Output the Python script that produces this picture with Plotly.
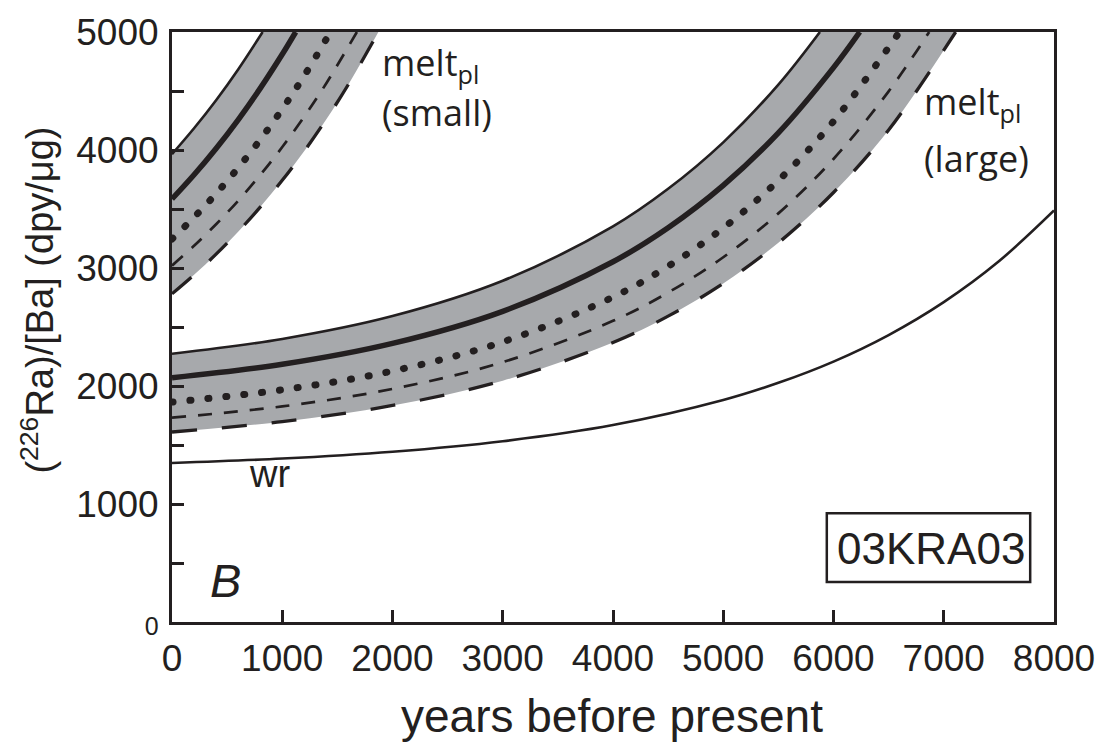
import plotly.graph_objects as go

# ---------------- data ----------------
# whole rock
wr_t = [0, 1000, 2000, 3000, 4000, 5000, 5500, 6000, 6500, 7000, 7500, 8000]
wr_v = [1348, 1385, 1443, 1532, 1669, 1881, 2027, 2207, 2432, 2711, 3057, 3487]

# melt_pl (large plagioclase)
large_upper_t = [0, 1000, 2000, 3000, 4000, 4500, 5000, 5500, 5877]
large_upper_v = [2273, 2399, 2593, 2892, 3353, 3671, 4065, 4554, 5000]
large_solid_t = [0, 1000, 2000, 3000, 4000, 4500, 5000, 5500, 6000, 6238]
large_solid_v = [2070, 2184, 2361, 2633, 3053, 3341, 3700, 4145, 4698, 5000]
large_dot_t = [0, 1000, 2000, 3000, 4000, 4500, 5000, 5500, 6000, 6598]
large_dot_v = [1864, 1968, 2127, 2374, 2753, 3015, 3339, 3742, 4243, 5000]
large_sdash_t = [0, 1000, 2000, 3000, 4000, 4500, 5000, 5500, 6000, 6500, 6868]
large_sdash_v = [1732, 1827, 1975, 2202, 2552, 2792, 3091, 3463, 3924, 4497, 5000]
large_lower_t = [0, 1000, 2000, 3000, 4000, 4500, 5000, 5500, 6000, 6500, 7108]
large_lower_v = [1610, 1698, 1835, 2045, 2369, 2592, 2869, 3213, 3640, 4170, 5000]

# melt_pl (small plagioclase)
small_upper_t = [0, 200, 400, 600, 822]
small_upper_v = [3965, 4184, 4422, 4683, 5000]
small_solid_t = [0, 200, 400, 600, 800, 1000, 1122]
small_solid_v = [3585, 3790, 4013, 4256, 4522, 4811, 5000]
small_dot_t = [0, 200, 400, 600, 800, 1000, 1200, 1437]
small_dot_v = [3246, 3430, 3630, 3849, 4087, 4347, 4630, 5000]
small_sdash_t = [0, 200, 400, 600, 800, 1000, 1200, 1400, 1677]
small_sdash_v = [3020, 3188, 3371, 3570, 3788, 4025, 4284, 4566, 5000]
small_lower_t = [0, 200, 400, 600, 800, 1000, 1200, 1400, 1600, 1872]
small_lower_v = [2781, 2942, 3117, 3308, 3516, 3743, 3991, 4261, 4556, 5000]

x_tickvals = [0, 1000, 2000, 3000, 4000, 5000, 6000, 7000, 8000]
x_ticktext = ["0", "1000", "2000", "3000", "4000", "5000", "6000", "7000", "8000"]
y_tickvals = [0, 1000, 2000, 3000, 4000, 5000]
y_ticktext = ["<span style='font-size:25px'>0</span>", "1000", "2000",
              "3000", "4000", "5000"]

# ---------------- styling ----------------
INK = "#231f20"
BAND = "#a7a9ac"
FONT = "Liberation Sans"
LABEL_FONT = "Open Sans"

# page-pixel -> paper fraction helpers (plot area 172..1061 x 31..622)
L, T, W, H = 172, 31, 889, 591


def px(x):
    return (x - L) / W


def py(y):
    return (T + H - y) / H


fig = go.Figure()


def band(lo_t, lo_v, up_t, up_v):
    fig.add_trace(go.Scatter(x=lo_t, y=lo_v, mode="lines",
                             line=dict(width=0, shape="spline"),
                             hoverinfo="skip", showlegend=False))
    fig.add_trace(go.Scatter(x=up_t, y=up_v, mode="lines", fill="tonexty",
                             fillcolor=BAND, line=dict(width=0, shape="spline"),
                             hoverinfo="skip", showlegend=False))


def curve(t, v, width, dash="solid"):
    fig.add_trace(go.Scatter(x=t, y=v, mode="lines",
                             line=dict(color=INK, width=width, dash=dash, shape="spline"),
                             hoverinfo="skip", showlegend=False))


band(large_lower_t, large_lower_v, large_upper_t, large_upper_v)
band(small_lower_t, small_lower_v, small_upper_t, small_upper_v)

for grp in [
    (large_upper_t, large_upper_v, small_upper_t, small_upper_v, 2.6, "solid"),
    (large_solid_t, large_solid_v, small_solid_t, small_solid_v, 5.5, "solid"),
    (large_dot_t, large_dot_v, small_dot_t, small_dot_v, 7, "1px,17px"),
    (large_sdash_t, large_sdash_v, small_sdash_t, small_sdash_v, 2.7, "14px,12px"),
    (large_lower_t, large_lower_v, small_lower_t, small_lower_v, 3.3, "25px,25px"),
]:
    curve(grp[0], grp[1], grp[4], grp[5])
    curve(grp[2], grp[3], grp[4], grp[5])

curve(wr_t, wr_v, 2.6)

fig.update_layout(
    width=1107, height=745,
    margin=dict(l=L, r=1107 - L - W, t=T, b=745 - T - H),
    paper_bgcolor="white", plot_bgcolor="white", showlegend=False,
    font=dict(family=FONT, color=INK),
)
axis_common = dict(ticks="inside", ticklen=12, tickwidth=3, tickcolor=INK,
                   showline=True, linewidth=3, linecolor=INK, mirror=True,
                   showgrid=False, zeroline=False,
                   tickfont=dict(family=FONT, size=37, color=INK))
fig.update_xaxes(range=[0, 8000], tickmode="array", tickvals=x_tickvals,
                 ticktext=x_ticktext, ticklabelstandoff=2, **axis_common)
fig.update_yaxes(range=[0, 5000], tickmode="array", tickvals=y_tickvals,
                 ticktext=y_ticktext, ticklabelstandoff=3,
                 minor=dict(tickmode="linear", tick0=0, dtick=500, ticks="inside",
                            ticklen=12, tickwidth=3, tickcolor=INK, showgrid=False),
                 **axis_common)

anns = [
    # y title
    dict(text="(<sup>226</sup>Ra)/[Ba] (dpy/\u03bcg)", x=px(36), y=py(300),
         textangle=-90, font=dict(family=FONT, size=38, color=INK)),
    # melt small
    dict(text="melt<sub>pl</sub>", x=px(382), y=py(64), xanchor="left", align="left",
         font=dict(family=LABEL_FONT, size=36, color=INK)),
    dict(text="(small)", x=px(382), y=py(112), xanchor="left", align="left",
         font=dict(family=LABEL_FONT, size=36, color=INK)),
    # melt large
    dict(text="melt<sub>pl</sub>", x=px(928), y=py(103), xanchor="left", align="left",
         font=dict(family=LABEL_FONT, size=36, color=INK)),
    dict(text="(large)", x=px(928), y=py(158), xanchor="left", align="left",
         font=dict(family=LABEL_FONT, size=36, color=INK)),
    # x title
    dict(text="years before present", x=px(615), y=py(716),
         font=dict(family=FONT, size=46, color=INK)),
    # wr
    dict(text="wr", x=px(270), y=py(474), font=dict(family=FONT, size=38, color=INK)),
    # panel letter
    dict(text="<i>B</i>", x=px(226), y=py(580), font=dict(family=FONT, size=47, color=INK)),
    # sample label
    dict(text="03KRA03", x=px(937), y=py(548), font=dict(family=FONT, size=44, color=INK)),
]
for a in anns:
    a.setdefault("xref", "paper")
    a.setdefault("yref", "paper")
    a.setdefault("showarrow", False)
    a.setdefault("xanchor", "center")
    a.setdefault("yanchor", "middle")
    fig.add_annotation(**a)

fig.add_shape(type="rect", xref="paper", yref="paper",
              x0=px(832), x1=px(1037), y0=py(582), y1=py(513),
              line=dict(color=INK, width=2.5), fillcolor="rgba(0,0,0,0)")

post = """
var gd = document.getElementById('{plot_id}');
gd.querySelectorAll('path.js-line').forEach(function(p){
  var d = p.style.strokeDasharray || '';
  if (d.indexOf('17') >= 0) { p.style.strokeLinecap = 'round'; }
});
"""

fig.write_html("out.html", post_script=post)
